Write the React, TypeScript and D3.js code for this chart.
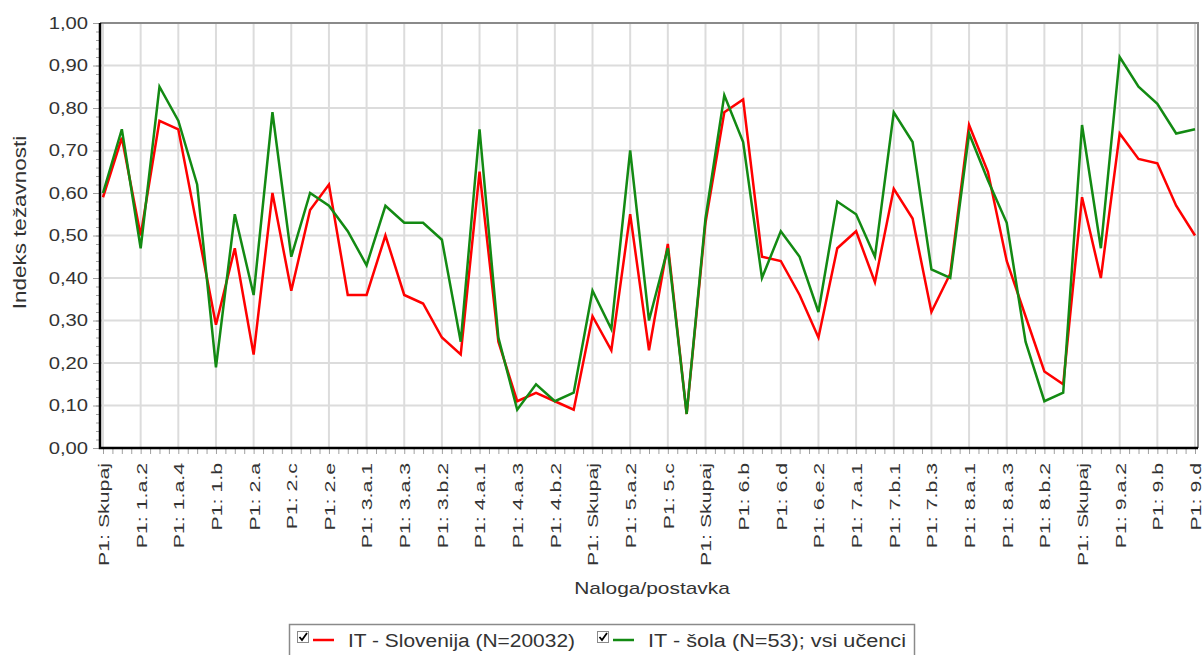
import React, { useRef, useEffect } from "react";
import * as d3 from "d3";

const categories: string[] = [
  "P1: Skupaj", "P1: 1.a.1", "P1: 1.a.2", "P1: 1.a.3", "P1: 1.a.4", "P1: 1.a.5",
  "P1: 1.b", "P1: 1.c", "P1: 2.a", "P1: 2.b", "P1: 2.c", "P1: 2.d", "P1: 2.e",
  "P1: 2.f", "P1: 3.a.1", "P1: 3.a.2", "P1: 3.a.3", "P1: 3.b.1", "P1: 3.b.2",
  "P1: 3.c", "P1: 4.a.1", "P1: 4.a.2", "P1: 4.a.3", "P1: 4.b.1", "P1: 4.b.2",
  "P1: 4.b.3", "P1: Skupaj", "P1: 5.a.1", "P1: 5.a.2", "P1: 5.b", "P1: 5.c",
  "P1: 5.d", "P1: Skupaj", "P1: 6.a", "P1: 6.b", "P1: 6.c", "P1: 6.d",
  "P1: 6.e.1", "P1: 6.e.2", "P1: 6.f", "P1: 7.a.1", "P1: 7.a.2", "P1: 7.b.1",
  "P1: 7.b.2", "P1: 7.b.3", "P1: 7.c", "P1: 8.a.1", "P1: 8.a.2", "P1: 8.a.3",
  "P1: 8.b.1", "P1: 8.b.2", "P1: 8.c", "P1: Skupaj", "P1: 9.a.1", "P1: 9.a.2",
  "P1: 9.a.3", "P1: 9.b", "P1: 9.c", "P1: 9.d",
];

const slovenija: number[] = [
  0.59, 0.73, 0.5, 0.77, 0.75, 0.52, 0.29, 0.47, 0.22, 0.6, 0.37, 0.56, 0.62,
  0.36, 0.36, 0.5, 0.36, 0.34, 0.26, 0.22, 0.65, 0.25, 0.11, 0.13, 0.11, 0.09,
  0.31, 0.23, 0.55, 0.23, 0.48, 0.08, 0.53, 0.79, 0.82, 0.45, 0.44, 0.36, 0.26,
  0.47, 0.51, 0.39, 0.61, 0.54, 0.32, 0.41, 0.76, 0.65, 0.44, 0.31, 0.18, 0.15,
  0.59, 0.4, 0.74, 0.68, 0.67, 0.57, 0.5,
];

const sola: number[] = [
  0.6, 0.75, 0.47, 0.85, 0.77, 0.62, 0.19, 0.55, 0.36, 0.79, 0.45, 0.6, 0.57,
  0.51, 0.43, 0.57, 0.53, 0.53, 0.49, 0.25, 0.75, 0.26, 0.09, 0.15, 0.11, 0.13,
  0.37, 0.28, 0.7, 0.3, 0.47, 0.08, 0.54, 0.83, 0.72, 0.4, 0.51, 0.45, 0.32,
  0.58, 0.55, 0.45, 0.79, 0.72, 0.42, 0.4, 0.74, 0.63, 0.53, 0.25, 0.11, 0.13,
  0.76, 0.47, 0.92, 0.85, 0.81, 0.74, 0.75,
];

const seriesNames = ["IT - Slovenija (N=20032)", "IT - šola (N=53); vsi učenci"];
const seriesColors = ["#ff0000", "#138a13"];
const yTicks = [0, 0.1, 0.2, 0.3, 0.4, 0.5, 0.6, 0.7, 0.8, 0.9, 1.0];

const FONT = "Arial, 'Liberation Sans', sans-serif";

const App: React.FC = () => {
  const svgRef = useRef<SVGSVGElement>(null);

  useEffect(() => {
    if (!svgRef.current) return;
    const width = 1204;
    const height = 655;
    const plot = { left: 100, right: 1198, top: 23, bottom: 448 };

    const svg = d3.select(svgRef.current).attr("width", width).attr("height", height);
    svg.selectAll("*").remove();

    const n = categories.length;
    const x = d3.scaleLinear().domain([0, n - 1]).range([103, 1195]);
    const y = d3.scaleLinear().domain([0, 1]).range([plot.bottom, plot.top]);

    // mreža
    const labelIdx = d3.range(0, n, 2);
    svg.append("g")
      .selectAll("line")
      .data(labelIdx)
      .enter()
      .append("line")
      .attr("x1", (d) => x(d)).attr("x2", (d) => x(d))
      .attr("y1", plot.top).attr("y2", plot.bottom)
      .attr("stroke", "#dcdcdc").attr("stroke-width", 2);
    svg.append("g")
      .selectAll("line")
      .data(yTicks)
      .enter()
      .append("line")
      .attr("x1", plot.left).attr("x2", plot.right)
      .attr("y1", (d) => y(d)).attr("y2", (d) => y(d))
      .attr("stroke", "#dcdcdc").attr("stroke-width", 2);

    // okvir
    svg.append("path")
      .attr("d", `M${plot.left},${plot.top}H${plot.right}V${plot.bottom}`)
      .attr("fill", "none").attr("stroke", "#8a8a8a").attr("stroke-width", 2);

    // y os - manjše oznake
    const yMinor = d3.axisLeft(y)
      .tickValues(d3.range(0, 1.001, 0.02))
      .tickSize(4)
      .tickFormat(() => "");
    const gyMinor = svg.append("g").attr("transform", `translate(${plot.left},0)`).call(yMinor);
    gyMinor.select(".domain").remove();
    gyMinor.selectAll("line").attr("stroke", "#a0a0a0");

    const yAxis = d3.axisLeft(y)
      .tickValues(yTicks)
      .tickSize(7)
      .tickPadding(5)
      .tickFormat((d) => d3.format(".2f")(d as number).replace(".", ","));
    const gy = svg.append("g").attr("transform", `translate(${plot.left},0)`).call(yAxis);
    gy.select(".domain").remove();
    gy.selectAll("line").attr("stroke", "#a0a0a0");
    gy.selectAll("text")
      .attr("font-family", FONT).attr("font-size", 17).attr("fill", "#333")
      .attr("x", 0)
      .attr("transform", "translate(-12,0) scale(1.19,1)");

    // x os
    const xMinor = d3.axisBottom(x)
      .tickValues(d3.range(0, n - 0.9, 0.5))
      .tickSize(6)
      .tickFormat(() => "");
    const gxMinor = svg.append("g").attr("transform", `translate(0,${plot.bottom})`).call(xMinor);
    gxMinor.select(".domain").remove();
    gxMinor.selectAll("line").attr("stroke", "#a0a0a0");

    const xAxis = d3.axisBottom(x)
      .tickValues(labelIdx)
      .tickSize(0)
      .tickFormat((d) => categories[d as number]);
    const gx = svg.append("g").attr("transform", `translate(0,${plot.bottom})`).call(xAxis);
    gx.select(".domain").remove();
    gx.selectAll("text")
      .attr("font-family", FONT).attr("font-size", 15).attr("fill", "#333")
      .attr("transform", "translate(0,15) rotate(-90) scale(1.42,1)")
      .attr("text-anchor", "end")
      .attr("dy", "0.36em")
      .attr("x", 0)
      .attr("y", 0);

    // osi
    svg.append("path")
      .attr("d", `M${plot.left},${plot.top}V${plot.bottom}H${plot.right}`)
      .attr("fill", "none").attr("stroke", "#000").attr("stroke-width", 2.5);

    // črte
    const line = d3.line<number>().x((_, i) => x(i)).y((d) => y(d));
    [slovenija, sola].forEach((s, k) => {
      svg.append("path")
        .datum(s)
        .attr("d", line)
        .attr("fill", "none")
        .attr("stroke", seriesColors[k])
        .attr("stroke-width", 2.5)
        .attr("stroke-linejoin", "miter");
    });

    // naslovi osi
    svg.append("text")
      .attr("transform", `translate(26,${(plot.top + plot.bottom) / 2 - 13}) rotate(-90) scale(1.25,1)`)
      .attr("text-anchor", "middle")
      .attr("font-family", FONT).attr("font-size", 18).attr("fill", "#333")
      .text("Indeks težavnosti");
    svg.append("text")
      .attr("transform", "translate(652,594) scale(1.23,1)")
      .attr("text-anchor", "middle")
      .attr("font-family", FONT).attr("font-size", 17).attr("fill", "#333")
      .text("Naloga/postavka");

    // legenda
    const lg = svg.append("g");
    lg.append("rect")
      .attr("x", 289.5).attr("y", 624.5).attr("width", 625).attr("height", 40)
      .attr("fill", "#fff").attr("stroke", "#8a8a8a").attr("stroke-width", 1.5);
    const legendX = [297, 597];
    const legendW = [227, 258];
    seriesNames.forEach((name, k) => {
      const g = lg.append("g").attr("transform", `translate(${legendX[k]},0)`);
      g.append("rect")
        .attr("x", 0.5).attr("y", 631.5).attr("width", 11).attr("height", 11)
        .attr("fill", "#fff").attr("stroke", "#8a8a8a");
      g.append("path")
        .attr("d", "M2.5,637 L5,640 L10,633")
        .attr("fill", "none").attr("stroke", "#000").attr("stroke-width", 1.8);
      g.append("line")
        .attr("x1", 16).attr("x2", 37).attr("y1", 640).attr("y2", 640)
        .attr("stroke", seriesColors[k]).attr("stroke-width", 2.5);
      g.append("text")
        .attr("x", 51).attr("y", 647)
        .attr("font-family", FONT).attr("font-size", 18).attr("fill", "#333")
        .attr("textLength", legendW[k])
        .attr("lengthAdjust", "spacingAndGlyphs")
        .text(name);
    });
  }, []);

  return (
    <svg
      ref={svgRef}
      style={{ position: "absolute", left: 0, top: 0, display: "block" }}
    ></svg>
  );
};

export default App;
